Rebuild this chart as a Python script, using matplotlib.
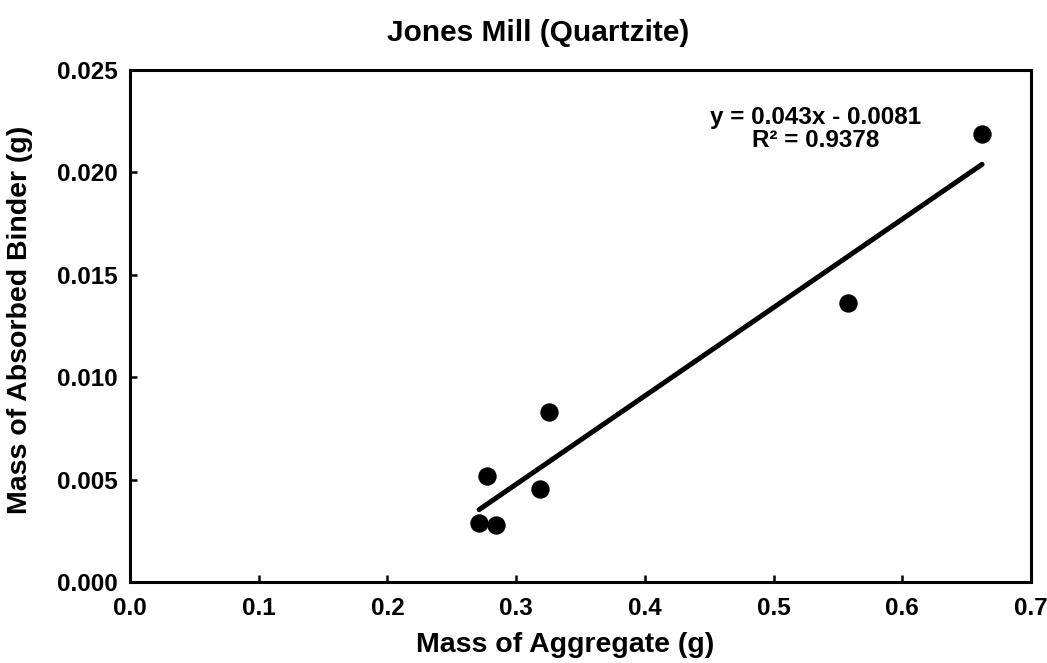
import numpy as np
import matplotlib
matplotlib.use("Agg")
import matplotlib.pyplot as plt

plt.rcParams['font.family'] = ['Liberation Sans', 'DejaVu Sans']
plt.rcParams['font.weight'] = 'bold'

# Measured samples
mass_aggregate = [0.2712, 0.2844, 0.2774, 0.3186, 0.3256, 0.5579, 0.6620]
mass_absorbed = [0.00288, 0.00278, 0.00518, 0.00454, 0.00830, 0.01362, 0.02188]

x_ticks = [0.0, 0.1, 0.2, 0.3, 0.4, 0.5, 0.6, 0.7]
y_ticks = [0.000, 0.005, 0.010, 0.015, 0.020, 0.025]

title = "Jones Mill (Quartzite)"
x_label = "Mass of Aggregate (g)"
y_label = "Mass of Absorbed Binder (g)"
fit_text = "y = 0.043x - 0.0081\nR\u00b2 = 0.9378"

fig = plt.figure(figsize=(10.47, 6.63), dpi=100)
ax = fig.add_axes([0.1242, 0.1222, 0.8605, 0.7722])

x = np.array(mass_aggregate)
y = np.array(mass_absorbed)

# Linear trendline over the span of the data
slope, intercept = np.polyfit(x, y, 1)
xs = np.array([x.min(), x.max()])
ax.plot(xs, slope * xs + intercept, color='black', lw=3.6, solid_capstyle='round', zorder=2)

ax.scatter(x, y, s=175, color='black', zorder=3, linewidths=0)

ax.text(0.533, 0.02212, fit_text, ha='center', va='center', fontsize=17.5,
        fontweight='bold', linespacing=1.05)

ax.set_xlim(0, 0.7)
ax.set_ylim(0, 0.025)
ax.set_xticks(x_ticks)
ax.set_yticks(y_ticks)
ax.set_xticklabels([f"{v:.1f}" for v in x_ticks])
ax.set_yticklabels([f"{v:.3f}" for v in y_ticks])
ax.tick_params(direction='in', length=5, width=1.8, labelsize=17.5)
ax.tick_params(axis='x', pad=11)
ax.tick_params(axis='y', pad=9)
for lab in ax.get_xticklabels() + ax.get_yticklabels():
    lab.set_fontweight('bold')
for sp in ax.spines.values():
    sp.set_linewidth(2.2)

fig.text(0.514, 0.950, title, ha='center', va='center', fontsize=21.5, fontweight='bold')
fig.text(0.540, 0.027, x_label, ha='center', va='center', fontsize=20.5, fontweight='bold')
fig.text(0.019, 0.517, y_label, ha='center', va='center', rotation=90, fontsize=20.5,
         fontweight='bold')

fig.savefig("out.png", dpi=100)
